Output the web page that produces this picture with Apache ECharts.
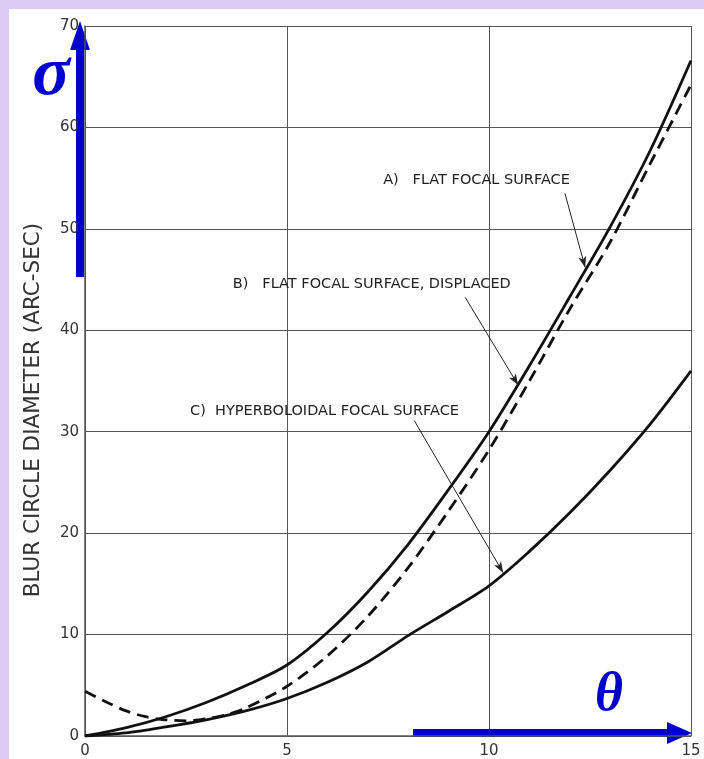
<!DOCTYPE html>
<html><head><meta charset="utf-8">
<script src="https://cdn.jsdelivr.net/npm/echarts@6/dist/echarts.min.js"></script>
<style>
html,body{margin:0;padding:0;background:#dccbf3;}
#frame{position:absolute;left:9px;top:9px;width:695px;height:750px;background:#fff;}
#c{position:absolute;left:0;top:0;width:704px;height:759px;}
</style>
</head><body><div id="frame"></div><div id="c"></div>
<script>
// ---- data ----
const thetaA = [0,1,2,3,4,5,6,7,8,9,10,11,12,13,14,15];
const flatA  = [0,0.8,1.9,3.3,5.0,7.0,10.2,14.2,18.9,24.3,30.0,36.5,43.3,50.2,57.8,66.6];
const thetaB = [0,0.5,1,1.5,2,2.5,3,3.5,4,5,6,7,8,9,10,11,12,13,14,15];
const flatB  = [4.4,3.4,2.5,1.9,1.6,1.5,1.7,2.1,2.8,4.9,7.9,11.8,16.6,22.2,28.2,35.0,42.1,48.7,56.5,64.2];
const thetaC = [0,1,2,3,4,5,6,7,8,9,10,11,12,13,14,15];
const hyperC = [0,0.3,0.9,1.6,2.5,3.7,5.3,7.3,9.9,12.3,14.8,18.2,22.0,26.2,30.8,36.0];
const xTicks = [0,5,10,15];
const yTicks = [0,10,20,30,40,50,60,70];
const yTitle = 'BLUR CIRCLE DIAMETER (ARC-SEC)';
const noteText = ['A)   FLAT FOCAL SURFACE','B)   FLAT FOCAL SURFACE, DISPLACED','C)  HYPERBOLOIDAL FOCAL SURFACE'];
const noteAt   = [[7.38,54.8],[3.66,44.5],[2.6,32.0]];
const leaderFrom = [[11.88,53.5],[9.41,43.25],[8.15,31.1]];
const leaderTo   = [[12.38,46.2],[10.72,34.6],[10.35,16.1]];

const pair = (xs, ys) => xs.map((x,i)=>[x, ys[i]]);
const chart = echarts.init(document.getElementById('c'), null, {renderer:'canvas'});
const ink = '#111';
const tickFont = {color:'#333', fontSize:15, fontFamily:'DejaVu Sans'};

const option = {
  backgroundColor:'transparent',
  animation:false,
  grid:{left:85, right:13, top:26, bottom:23},
  xAxis:{type:'value', min:0, max:15, interval:5,
    axisLine:{show:true, onZero:false, lineStyle:{color:'#555', width:1.5}},
    axisTick:{show:false},
    axisLabel:Object.assign({margin:8, showMaxLabel:true, formatter:v=>xTicks.includes(v)?String(v):''}, tickFont),
    splitLine:{show:true, lineStyle:{color:'#555', width:1}}},
  yAxis:{type:'value', min:0, max:70, interval:10,
    axisLine:{show:true, lineStyle:{color:'#555', width:1.5}},
    axisTick:{show:false},
    axisLabel:Object.assign({margin:6, formatter:v=>yTicks.includes(v)?String(v):''}, tickFont),
    splitLine:{show:true, lineStyle:{color:'#555', width:1}}},
  series:[
    {type:'line', data:pair(thetaA, flatA), smooth:0.3, showSymbol:false,
     lineStyle:{color:ink, width:2.8}},
    {type:'line', data:pair(thetaB, flatB), smooth:0.3, showSymbol:false,
     lineStyle:{color:ink, width:2.8, type:[12,7]}},
    {type:'line', data:pair(thetaC, hyperC), smooth:0.3, showSymbol:false,
     lineStyle:{color:ink, width:2.8},
     markLine:{silent:true, symbol:['none','arrow'], symbolSize:[6,11],
       lineStyle:{color:'#222', width:1, type:'solid'}, label:{show:false},
       data: leaderFrom.map((f,i)=>[{coord:f},{coord:leaderTo[i]}])}}
  ]
};
chart.setOption(option);

const g = [];
noteText.forEach((t,i)=>{
  const p = chart.convertToPixel({gridIndex:0}, noteAt[i]);
  g.push({type:'text', x:p[0], y:p[1], style:{text:t, fill:'#222', font:'14.5px "DejaVu Sans"', textVerticalAlign:'middle', textAlign:'left'}});
});
// y-axis title
g.push({type:'text', x:33, y:410, rotation:Math.PI/2, style:{text:yTitle, fill:'#333', font:'21.5px "DejaVu Sans"', textAlign:'center', textVerticalAlign:'middle'}});
// decorative blue arrows and symbols
const blue = '#0000cc';
g.push({type:'rect', shape:{x:76, y:45, width:8, height:232}, style:{fill:blue}});
g.push({type:'polygon', shape:{points:[[80,21],[70,50],[90,50]]}, style:{fill:blue}});
g.push({type:'rect', shape:{x:413, y:729, width:258, height:8}, style:{fill:blue}});
g.push({type:'polygon', shape:{points:[[692,733],[667,722],[667,744]]}, style:{fill:blue}});
g.push({type:'text', x:51, y:76, style:{text:'σ', fill:blue, font:'bold italic 70px "Liberation Serif"', textAlign:'center', textVerticalAlign:'middle'}});
g.push({type:'text', x:609, y:696, style:{text:'θ', fill:blue, font:'bold italic 54px "Liberation Serif"', textAlign:'center', textVerticalAlign:'middle'}});
chart.setOption({graphic:g});
</script>
</body></html>
